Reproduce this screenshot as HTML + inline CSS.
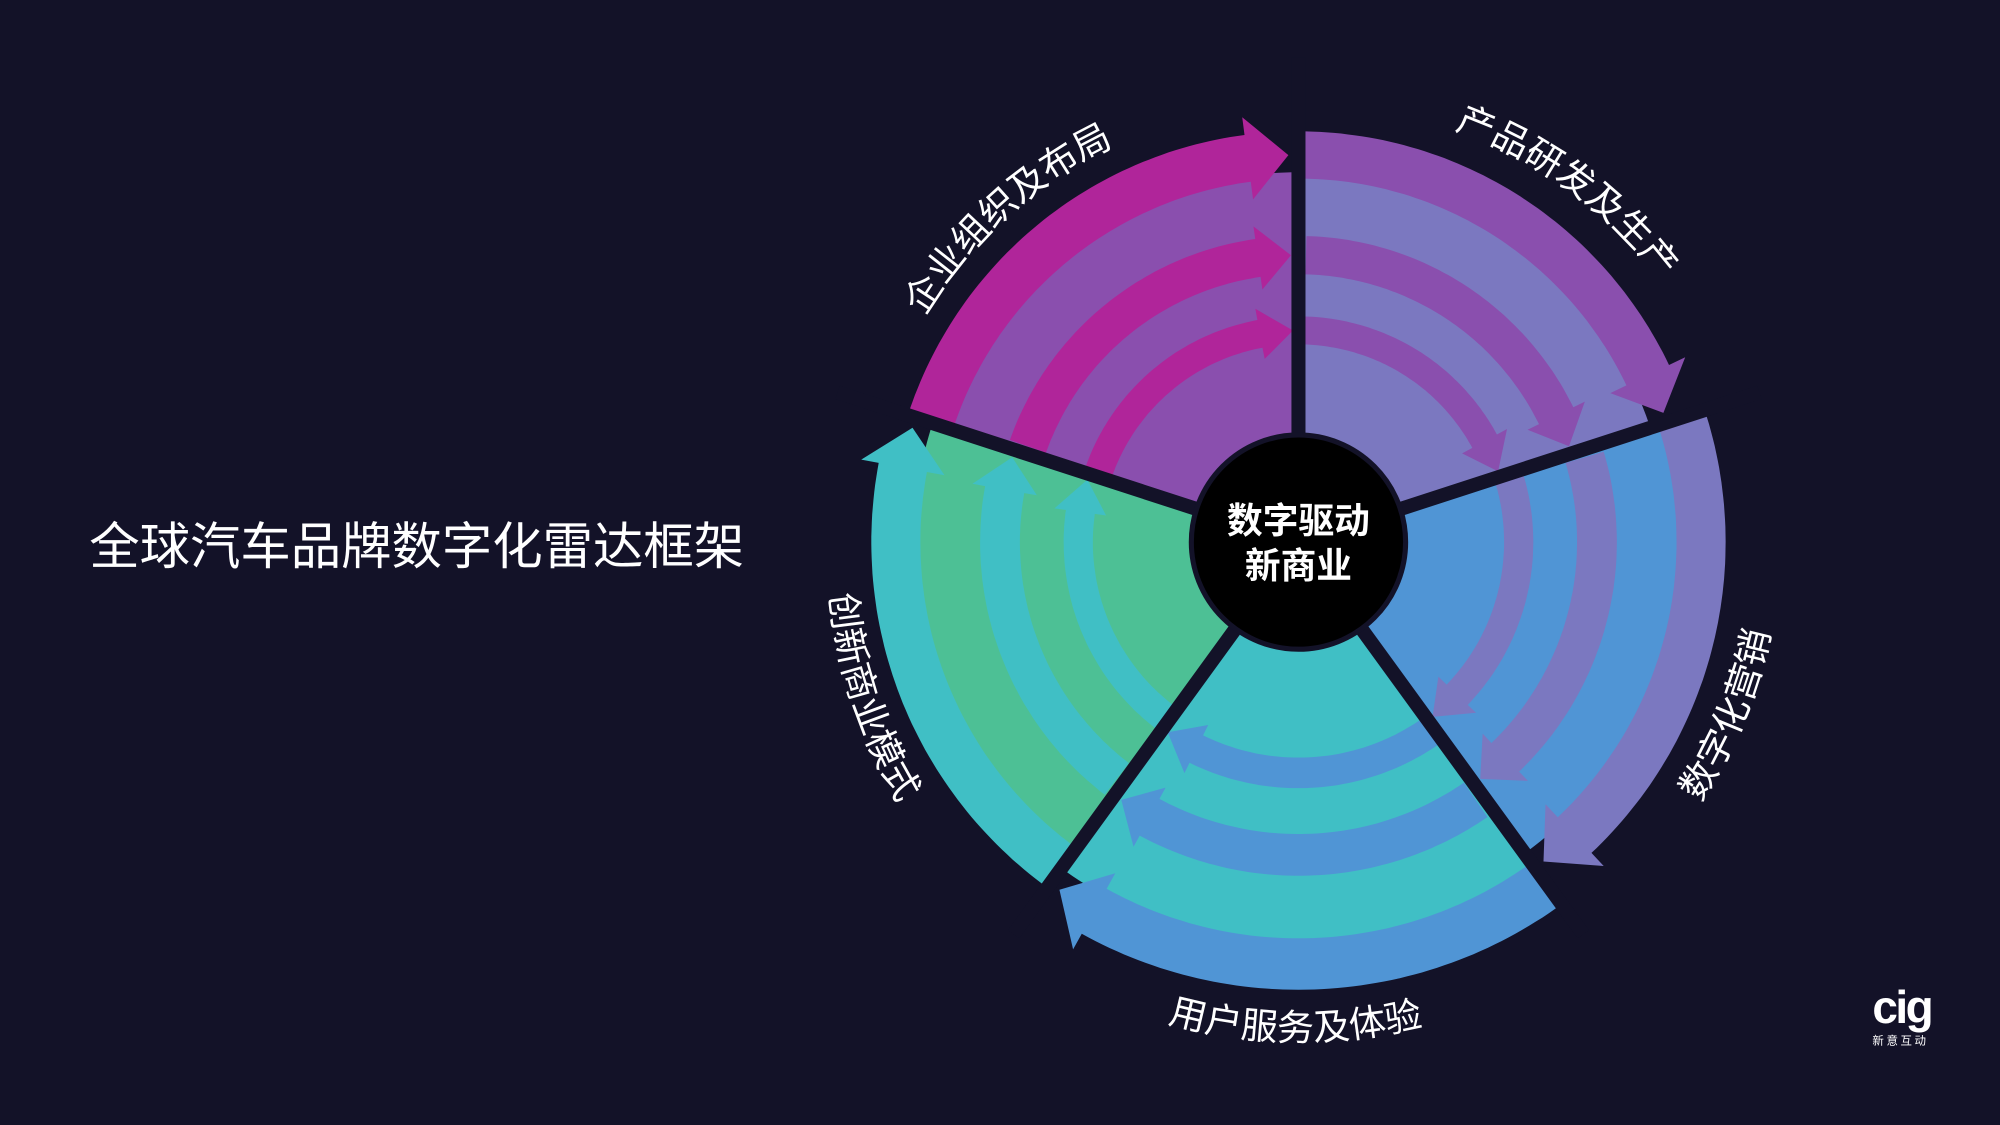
<!DOCTYPE html>
<html><head><meta charset="utf-8">
<style>
html,body{margin:0;padding:0;background:#131228;}
svg{display:block}
text{font-family:"Liberation Sans","Noto Sans CJK SC",sans-serif;}
</style></head>
<body>
<svg id="s" width="2000" height="1125" viewBox="0 0 1568 882" xmlns="http://www.w3.org/2000/svg">
<rect width="1568" height="882" fill="#131228"/>
<g id="g"></g>
<circle cx="1018" cy="425" r="84" fill="#000" stroke="#131228" stroke-width="4"/>
<text x="1018" y="418" text-anchor="middle" font-size="28" font-weight="bold" fill="#fff">数字驱动</text>
<text x="1018" y="453" text-anchor="middle" font-size="28" font-weight="bold" fill="#fff">新商业</text>
<text x="70" y="442" font-size="39.5" fill="#fff">全球汽车品牌数字化雷达框架</text>
<defs>
<path id="p1" d="M 721.3 253.8 A 345 345 0 0 1 1000 82"/>
<path id="p2" d="M 1036 82 A 345 345 0 0 1 1338 280"/>
<path id="p3" d="M 1310 660 A 380 380 0 0 0 1395 440"/>
<path id="p4" d="M 880 790 A 392 392 0 0 0 1160 790"/>
<path id="p5" d="M 650 455 A 380 380 0 0 0 760 700"/>
</defs>
<g font-size="29" fill="#fff">
<text><textPath href="#p1" startOffset="2%">企业组织及布局</textPath></text>
<text><textPath href="#p2" startOffset="28%">产品研发及生产</textPath></text>
<text><textPath href="#p3" startOffset="16%">数字化营销</textPath></text>
<text><textPath href="#p4" startOffset="13%">用户服务及体验</textPath></text>
<text><textPath href="#p5" startOffset="4%">创新商业模式</textPath></text>
</g>
<text x="1468" y="802" font-size="36" font-weight="bold" fill="#fff" letter-spacing="-2">cig</text>
<text x="1468" y="819" font-size="9" fill="#fff" letter-spacing="2">新意互动</text>
</svg>
<script>
var cx=1018,cy=425,NS="http://www.w3.org/2000/svg",g=document.getElementById('g');
function pt(r,d){var a=d*Math.PI/180;return [cx+r*Math.cos(a),cy-r*Math.sin(a)];}
function add(tag,attrs){var e=document.createElementNS(NS,tag);for(var k in attrs)e.setAttribute(k,attrs[k]);g.appendChild(e);return e;}
function arcPts(r,a,b){var n=Math.max(8,Math.ceil(Math.abs(b-a)));var p=[];for(var i=0;i<=n;i++){p.push(pt(r,a+(b-a)*i/n));}return p;}
function poly(pts,fill){add('polygon',{points:pts.map(function(p){return p[0].toFixed(1)+','+p[1].toFixed(1)}).join(' '),fill:fill});}
var secs=[
 {a0:90,a1:162,fill:'#8a4fae',arr:'#b0259a',k:1.0},
 {a0:18,a1:90,fill:'#7b78c0',arr:'#8a4fae',k:1.0},
 {a0:-54,a1:18,fill:'#5095d5',arr:'#7b78c0',k:1.04},
 {a0:-126,a1:-54,fill:'#40bfc5',arr:'#5095d5',k:1.09},
 {a0:-198,a1:-126,fill:'#4dc095',arr:'#40bfc5',k:1.04}
];
var bands=[[285,322,14],[210,240,10],[155,177,9]];
secs.forEach(function(s){
  var p=[[cx,cy]].concat(arcPts(290*s.k,s.a0,s.a1));poly(p,s.fill);
});
secs.forEach(function(s){
  bands.forEach(function(b,i){
    var r1=b[0]*s.k,r2=b[1]*s.k,w=b[2],rm=(r1+r2)/2;
    var start=s.a1-(i==0?0:1.5), end=s.a0+1.5;
    var head=(i==0?32:26)/rm*180/Math.PI;
    var e2=end+head;
    var pts=arcPts(r2,start,e2);
    pts.push(pt(r2+w,e2));pts.push(pt(rm,end));pts.push(pt(r1-w,e2));
    pts=pts.concat(arcPts(r1,e2,start));
    poly(pts,s.arr);
  });
});
[90,18,-54,-126,162].forEach(function(a){
  var p=pt(380,a);add('line',{x1:cx,y1:cy,x2:p[0],y2:p[1],stroke:'#131228','stroke-width':11});
});
</script>
</body></html>
